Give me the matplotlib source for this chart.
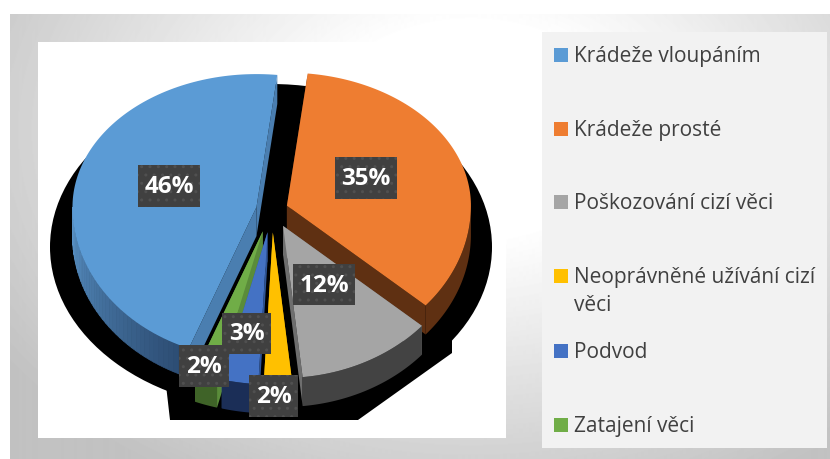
"""Koláčový graf 3D: skladba majetkové trestné činnosti."""
import numpy as np
import matplotlib
matplotlib.use("Agg")
import matplotlib.pyplot as plt
from matplotlib.patches import Ellipse, Polygon, Rectangle

categories = ["Krádeže vloupáním", "Krádeže prosté", "Poškozování cizí věci",
              "Neoprávněné užívání cizí\nvěci", "Podvod", "Zatajení věci"]
shares = [45.81, 34.6, 11.9, 2.49, 3.2, 2.0]

top_colors = ["#5b9bd5", "#ee7d31", "#a5a5a5", "#ffc000", "#4472c4", "#70ad47"]
cut_colors = ["#4a7eb0", "#5f3012", "#6e6e6e", "#c79600", "#2f5597", "#5a8c3a"]
wall_colors = ["#4a7eb0", "#5f3012", "#434343", "#8a6a00", "#1b2e57", "#3f6328"]
explode = [16, 16, 24, 30, 30, 30]
label_boxes = [(138, 165, 62, 42), (335, 157, 62, 42), (293, 264, 62, 41),
               (249, 375, 49, 42), (222, 313, 49, 41), (179, 345, 50, 42)]
legend_y = [55, 129, 202, 276, 351, 425]

CX, CY = 272, 210
RX, RY_UP, RY_DOWN = 184, 133, 152
DEPTH = 29
START = 6.5


def rim(theta, ox, oy):
    t = np.radians(theta)
    c = np.cos(t)
    ry = np.where(c > 0, RY_UP, RY_DOWN)
    return np.column_stack([ox + RX * np.sin(t), oy - ry * c])


def mix(a, b, k):
    return tuple((1 - k) * x + k * y for x, y in zip(matplotlib.colors.to_rgb(a), matplotlib.colors.to_rgb(b)))


fig = plt.figure(figsize=(8.3, 4.59), dpi=100)
ax = fig.add_axes([0, 0, 1, 1])

# pozadí s přechodem
yy, xx = np.mgrid[14:459, 10:830]
dist = np.sqrt(((xx - 470) / 460.0) ** 2 + ((yy - 130) / 330.0) ** 2)
grad = np.clip(1.02 - 0.2 * np.clip(dist - 0.25, 0, None) / 0.75, 0.76, 1)
ax.imshow(grad, cmap="gray", vmin=0, vmax=1, extent=(10, 830, 459, 14), aspect="auto", zorder=0)
ax.add_patch(Rectangle((38, 42), 468, 396, fc="white", ec="none", zorder=1))
ax.add_patch(Rectangle((542, 32), 285, 416, fc="#f2f2f2", ec="none", zorder=1))

# černý stín pod koláčem
clip = Rectangle((38, 42), 468, 378, transform=ax.transData)
for shadow in (Ellipse((271, 247), 442, 326, fc="black", ec="none", zorder=2),
               Polygon([(166, 385), (170, 420), (358, 420), (452, 353), (452, 330), (271, 300)],
                       fc="black", ec="none", zorder=2)):
    ax.add_patch(shadow)
    shadow.set_clip_path(clip)

# výseče
angles = START + np.cumsum([0] + [s * 3.6 for s in shares[1:]] + [shares[0] * 3.6])
spans = {0: (angles[5], angles[6])}
for i in range(1, 6):
    spans[i] = (angles[i - 1], angles[i])

for z, i in enumerate([0, 1, 2, 5, 4, 3]):
    a0, a1 = spans[i]
    mid = np.radians((a0 + a1) / 2)
    ox = CX + explode[i] * np.sin(mid)
    oy = CY - explode[i] * np.cos(mid) * 0.75
    zo = 3 + z
    theta = np.linspace(a0, a1, 120)
    edge = rim(theta, ox, oy)
    apex = np.array([ox, oy])

    # řezné plochy
    for a in (a0, a1):
        p = rim(np.array([a]), ox, oy)[0]
        ax.add_patch(Polygon([apex, p, p + (0, DEPTH), apex + (0, DEPTH)],
                             fc=cut_colors[i], ec="none", zorder=zo))

    # vnější stěna
    w0, w1 = max(a0, 90), min(a1, 270)
    if w1 > w0:
        if i == 0:
            steps = np.linspace(w0, w1, 40)
            for s0, s1 in zip(steps[:-1], steps[1:]):
                p = rim(np.array([s0, s1]), ox, oy)
                k = (s0 - w0) / (w1 - w0)
                ax.add_patch(Polygon([p[0], p[1], p[1] + (0, DEPTH), p[0] + (0, DEPTH)],
                                     fc=mix("#2b4a70", "#5a94c8", k), ec=mix("#2b4a70", "#5a94c8", k),
                                     lw=0.5, zorder=zo + 0.2))
        else:
            p = rim(np.linspace(w0, w1, 60), ox, oy)
            ax.add_patch(Polygon(np.vstack([p, p[::-1] + (0, DEPTH)]), fc=wall_colors[i], ec="none", zorder=zo + 0.2))

    ax.add_patch(Polygon(np.vstack([apex, edge]), fc=top_colors[i], ec="none", zorder=zo + 0.5))

# popisky procent
for i, (x, y, w, h) in enumerate(label_boxes):
    ax.add_patch(Rectangle((x, y), w, h, fc="#404040", ec="#505050", lw=0, hatch="..", zorder=20))
    ax.text(x + w / 2, y + h / 2 + 1, f"{shares[i]:.0f}%", color="white", fontsize=17.5, fontweight="bold",
            family="Open Sans", ha="center", va="center", zorder=21)

# legenda
for name, y, col in zip(categories, legend_y, top_colors):
    ax.add_patch(Rectangle((554, y - 7), 14, 14, fc=col, ec="none", zorder=3))
    ax.text(574, y - 9, name, color="#404040", fontsize=15, family="Open Sans",
            va="top", ha="left", linespacing=1.42, zorder=3)

ax.set_xlim(0, 830)
ax.set_ylim(459, 0)
ax.axis("off")
fig.savefig("out.png", dpi=100)
